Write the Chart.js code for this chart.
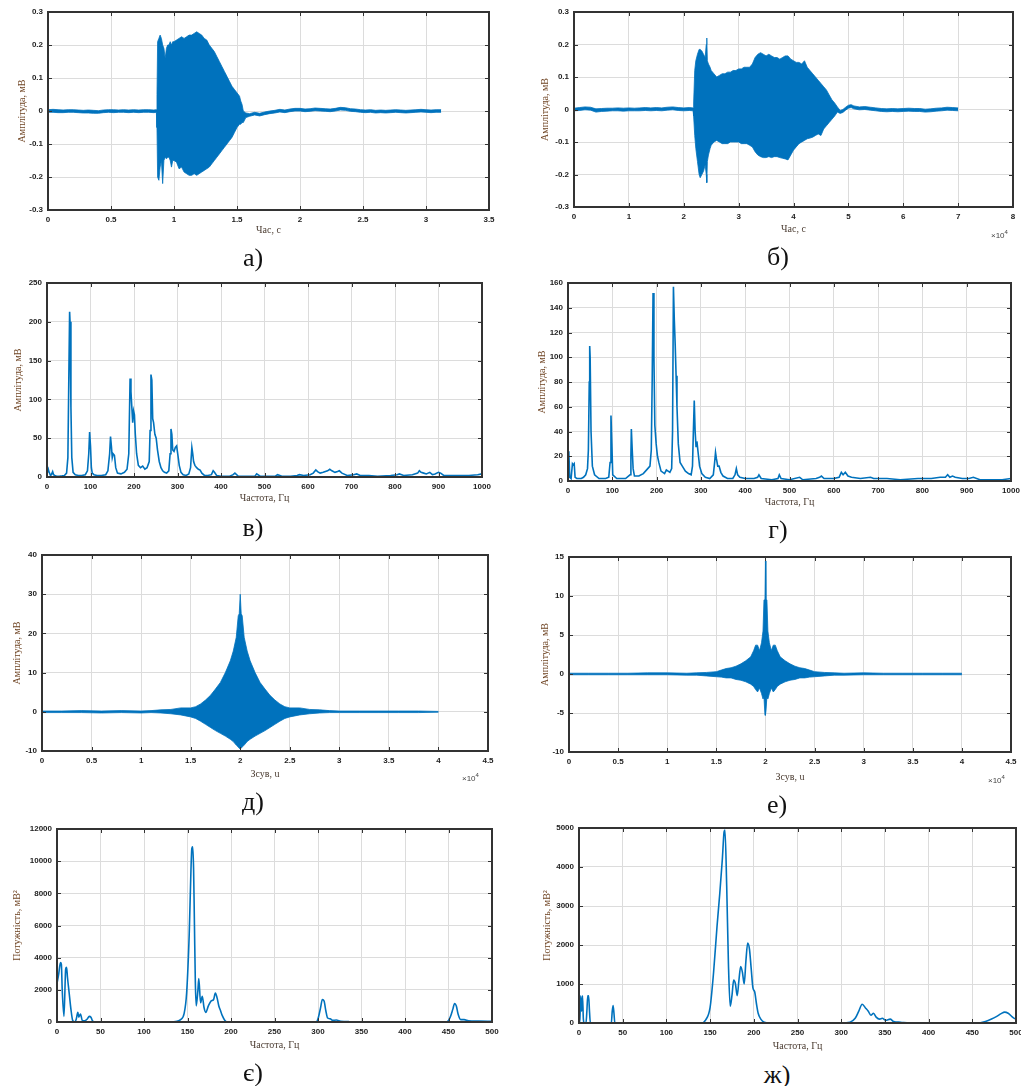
<!DOCTYPE html>
<html>
<head>
<meta charset="utf-8">
<script src="https://cdn.jsdelivr.net/npm/chart.js@4.4.0/dist/chart.umd.min.js"></script>
<style>
  html, body { margin: 0; padding: 0; background: #fff; overflow: hidden; }
  #page { position: relative; width: 1021px; height: 1086px; overflow: hidden; background: #fff; }
  #page canvas { position: absolute; }
  .cap { position: absolute; font-family: "Liberation Serif", "DejaVu Serif", serif; font-size: 26px; color: #111; transform: translate(-50%, -50%); white-space: nowrap; }
  .exp { position: absolute; font-family: "Liberation Sans", sans-serif; font-size: 8px; color: #444; white-space: nowrap; }
  .exp sup { font-size: 6px; }
</style>
</head>
<body>
<div id="page"></div>
<script>
// ---- а) signal 1, envelope (time in s, amplitude in mV)
const aTime = [0,0.04,0.08,0.12,0.16,0.2,0.24,0.28,0.32,0.36,0.4,0.44,0.48,0.52,0.56,0.6,0.64,0.68,0.72,0.76,0.8,0.84,0.86,
  0.865,0.87,0.88,0.89,0.9,0.91,0.92,0.93,0.94,0.95,0.96,0.97,0.98,0.99,1.0,
  1.02,1.04,1.06,1.08,1.1,1.12,1.14,1.16,1.18,1.2,1.22,1.24,1.26,1.28,1.3,1.32,1.34,1.36,1.38,1.4,1.42,1.44,1.46,1.48,1.5,1.52,
  1.53,1.54,1.55,
  1.57,1.6,1.64,1.68,1.72,1.76,1.8,1.84,1.88,1.92,1.96,2.0,2.04,2.08,2.12,2.16,2.2,2.24,2.28,2.32,2.36,2.4,2.44,2.48,2.52,2.56,2.6,2.64,2.68,2.72,2.76,2.8,2.84,2.88,2.92,2.96,3.0,3.04,3.08,3.12];
const aTop = [0.004,0.005,0.004,0.003,0.004,0.004,0.003,0.002,0.003,0.002,0.001,0.003,0.004,0.004,0.003,0.004,0.003,0.004,0.003,0.004,0.004,0.003,0.004,
  0.05,0.21,0.22,0.23,0.22,0.2,0.19,0.16,0.19,0.2,0.2,0.21,0.2,0.21,0.21,
  0.215,0.22,0.225,0.22,0.225,0.23,0.23,0.235,0.24,0.235,0.23,0.22,0.215,0.2,0.19,0.18,0.165,0.15,0.135,0.12,0.105,0.09,0.075,0.065,0.055,0.045,
  0.03,0.02,0.0,
  -0.006,-0.008,-0.004,-0.007,-0.003,0.0,0.002,0.005,0.003,0.006,0.008,0.008,0.006,0.007,0.009,0.008,0.007,0.006,0.008,0.011,0.010,0.007,0.006,0.004,0.003,0.004,0.002,0.003,0.002,0.003,0.004,0.003,0.002,0.003,0.004,0.005,0.004,0.003,0.004,0.004];
const aBot = [-0.004,-0.004,-0.005,-0.005,-0.004,-0.004,-0.005,-0.006,-0.006,-0.007,-0.007,-0.005,-0.004,-0.005,-0.004,-0.004,-0.005,-0.004,-0.005,-0.004,-0.004,-0.005,-0.004,
  -0.05,-0.2,-0.21,-0.17,-0.15,-0.22,-0.15,-0.14,-0.145,-0.14,-0.14,-0.15,-0.17,-0.15,-0.15,
  -0.155,-0.175,-0.17,-0.185,-0.19,-0.195,-0.195,-0.19,-0.195,-0.19,-0.185,-0.18,-0.175,-0.17,-0.16,-0.15,-0.14,-0.13,-0.12,-0.11,-0.1,-0.09,-0.08,-0.065,-0.05,-0.04,
  -0.04,-0.035,-0.035,
  -0.02,-0.016,-0.012,-0.015,-0.011,-0.008,-0.006,-0.003,-0.005,-0.002,0.0,0.0,-0.002,-0.001,0.001,0.0,-0.001,-0.002,0.0,0.003,0.002,-0.001,-0.002,-0.004,-0.005,-0.004,-0.006,-0.005,-0.006,-0.005,-0.004,-0.005,-0.006,-0.005,-0.004,-0.003,-0.004,-0.005,-0.004,-0.004];

// ---- б) signal 2, envelope (samples x 10^4)
const bTime = [0,0.1,0.2,0.3,0.4,0.5,0.6,0.7,0.8,0.9,1.0,1.1,1.2,1.3,1.4,1.5,1.6,1.7,1.8,1.9,2.0,2.1,2.17,
  2.18,2.2,2.22,2.25,2.28,2.3,2.33,2.36,2.39,2.41,2.42,2.43,2.45,2.48,
  2.5,2.55,2.6,2.65,2.7,2.75,2.8,2.85,2.9,2.95,
  3.0,3.05,3.1,3.15,3.2,3.25,3.3,3.35,3.4,3.45,3.5,3.55,3.6,3.65,3.7,3.75,3.8,3.85,3.9,3.95,
  4.0,4.05,4.1,4.15,4.2,4.25,4.3,4.35,4.4,4.45,4.5,4.55,4.6,4.65,4.7,4.75,4.8,
  4.85,4.9,4.95,5.0,5.05,5.1,5.2,5.3,5.4,5.5,5.6,5.7,5.8,5.9,6.0,6.1,6.2,6.3,6.4,6.5,6.6,6.7,6.8,6.9,7.0];
const bTop = [0.004,0.006,0.008,0.007,0.002,0.003,0.004,0.004,0.005,0.004,0.005,0.004,0.005,0.006,0.005,0.006,0.005,0.007,0.008,0.006,0.005,0.006,0.005,
  0.02,0.12,0.15,0.17,0.185,0.185,0.18,0.17,0.16,0.2,0.22,0.15,0.14,0.13,
  0.12,0.11,0.1,0.105,0.11,0.11,0.115,0.115,0.12,0.12,
  0.125,0.125,0.13,0.13,0.13,0.14,0.16,0.17,0.175,0.17,0.165,0.17,0.165,0.16,0.16,0.155,0.16,0.165,0.165,0.155,
  0.15,0.145,0.145,0.14,0.15,0.13,0.12,0.11,0.1,0.09,0.08,0.07,0.06,0.045,0.03,0.02,0.008,
  -0.003,0.0,0.007,0.013,0.015,0.011,0.008,0.009,0.007,0.005,0.003,0.002,0.003,0.002,0.003,0.004,0.003,0.003,0.001,0.002,0.004,0.005,0.007,0.006,0.005];
const bBot = [-0.004,-0.003,-0.001,-0.002,-0.008,-0.006,-0.005,-0.004,-0.004,-0.005,-0.004,-0.004,-0.004,-0.003,-0.004,-0.003,-0.004,-0.002,-0.001,-0.003,-0.004,-0.003,-0.004,
  -0.02,-0.08,-0.12,-0.16,-0.2,-0.21,-0.2,-0.19,-0.17,-0.2,-0.225,-0.16,-0.14,-0.12,
  -0.11,-0.1,-0.095,-0.1,-0.105,-0.105,-0.105,-0.1,-0.1,-0.1,
  -0.1,-0.105,-0.105,-0.105,-0.11,-0.115,-0.13,-0.14,-0.145,-0.148,-0.148,-0.145,-0.148,-0.145,-0.145,-0.148,-0.15,-0.152,-0.155,-0.14,
  -0.125,-0.115,-0.105,-0.1,-0.095,-0.09,-0.088,-0.085,-0.08,-0.075,-0.08,-0.06,-0.05,-0.04,-0.03,-0.02,-0.008,
  -0.012,-0.009,-0.002,0.004,0.006,0.002,-0.001,0.0,-0.002,-0.004,-0.006,-0.007,-0.006,-0.007,-0.006,-0.005,-0.006,-0.006,-0.008,-0.007,-0.005,-0.004,-0.002,-0.003,-0.004];

// ---- в) amplitude spectrum 1 (Hz)
const specAFreq = [0,3,5,8,10,13,15,18,22,28,
  35,40,45,48,50,52,53,55,57,60,
  65,72,80,88,93,96,98,100,102,104,
  108,115,125,135,140,144,146,148,150,152,
  155,158,162,170,178,184,188,191,193,195,
  197,199,201,203,206,210,215,220,225,230,
  235,237,239,241,243,245,248,251,254,258,
  262,266,270,275,280,283,285,287,289,292,
  295,298,301,304,308,313,320,326,330,333,
  335,337,340,344,348,352,356,362,370,378,
  382,385,390,400,420,428,432,440,460,478,
  482,490,510,525,530,540,560,575,580,590,
  605,612,618,622,628,635,645,650,655,662,
  668,672,678,690,705,712,720,740,760,790,
  805,810,820,840,852,856,860,866,872,880,
  886,892,900,905,912,930,950,970,990,1000];
const specAAmp = [4,10,6,2,3,7,3,2,1,1,
  1.5,2,5,25,120,213,200,90,25,6,
  3,2,2,3,8,30,58,40,12,5,
  3,2,2,3,8,30,52,40,25,30,
  28,12,5,4,6,10,30,127,110,90,
  70,85,80,55,30,15,12,14,10,12,
  20,60,132,125,75,70,55,50,35,20,
  12,8,6,5,8,30,62,55,35,33,
  38,40,28,15,6,3,2,4,12,38,
  30,20,15,12,10,9,5,2,2,3,
  8,6,2,1,1,3,5,1,1,1,
  4,1,1,1,3,1,1,2,3,2,
  3,5,9,7,5,6,8,10,8,6,
  7,8,5,2,3,4,2,2,1,2,
  3,4,2,3,5,8,6,5,4,6,
  3,4,6,5,2,2,2,2,3,4];

// ---- г) amplitude spectrum 2 (Hz)
const specBFreq = [0,2,4,7,10,12,14,16,20,25,
  30,35,40,44,46,48,49,50,52,55,
  60,70,85,92,95,97,99,101,110,130,
  140,142,143,145,147,150,160,170,180,185,
  188,190,192,194,196,199,202,205,210,218,
  222,226,230,234,236,238,240,242,244,246,
  249,253,258,265,272,278,281,283,285,287,
  289,291,294,297,302,310,320,328,331,333,
  335,338,341,345,350,360,372,377,380,383,
  388,400,420,428,431,436,460,474,477,481,
  500,523,530,560,568,572,578,600,612,617,
  621,626,632,640,660,683,690,720,750,790,
  820,840,852,857,862,868,874,890,905,915,
  930,960,980,1000];
const specBAmp = [24,22,3,2,14,13,14,3,2,2,
  2,3,5,10,25,80,109,100,40,12,
  5,2,2,3,15,53,30,5,2,2,
  5,20,42,25,10,4,4,6,10,12,
  25,80,152,100,45,30,20,15,8,6,
  9,8,7,10,40,157,130,110,85,60,
  30,15,12,8,6,5,12,40,65,40,
  28,32,22,12,6,3,2,5,15,23,
  18,12,12,7,4,2,2,5,10,5,
  3,2,2,3,5,2,1,2,5,2,
  1,3,1,2,3,4,2,2,3,7,
  5,7,4,3,2,3,2,2,1,2,
  2,3,3,5,3,4,3,2,2,3,
  1,1,1,2];

// ---- д) autocorrelation 1, envelope (lag x 10^4)
const dLag = [0,0.2,0.4,0.6,0.8,1.0,1.1,1.2,1.3,1.4,1.5,
  1.55,1.6,1.65,1.7,1.75,1.8,1.85,1.9,
  1.93,1.96,1.98,1.99,2.0,2.01,2.02,2.04,2.07,
  2.1,2.15,2.2,2.25,2.3,2.35,2.4,2.45,2.5,
  2.6,2.7,2.8,2.9,3.0,3.2,3.4,3.6,3.8,4.0];
const dTop = [0.2,0.2,0.3,0.2,0.3,0.2,0.3,0.5,0.6,1.0,1.0,
  1.3,2.0,3.0,4.2,5.8,7.5,10,13,
  15.5,19,24.5,25,30,25,24.5,19,15.5,
  13,10,7.5,5.8,4.2,3.0,2.0,1.3,1.0,
  1.0,0.6,0.5,0.3,0.2,0.2,0.2,0.2,0.2,0.1];
const dBot = [-0.2,-0.2,-0.2,-0.3,-0.2,-0.3,-0.2,-0.3,-0.5,-0.8,-1.3,
  -1.7,-2.4,-3.2,-4.0,-4.8,-5.5,-6.2,-7.0,
  -7.6,-8.5,-9.0,-9.3,-9.5,-9.3,-9.0,-8.5,-7.6,
  -7.0,-6.2,-5.5,-4.8,-4.0,-3.2,-2.4,-1.7,-1.3,
  -0.8,-0.5,-0.3,-0.2,-0.2,-0.2,-0.2,-0.2,-0.2,-0.1];

// ---- е) autocorrelation 2, envelope (lag x 10^4)
const eLag = [0,0.2,0.4,0.6,0.8,1.0,1.2,1.3,1.4,1.5,
  1.55,1.6,1.65,1.7,1.75,1.8,1.85,1.88,1.9,1.92,1.94,1.96,
  1.975,1.985,1.995,2.0,2.005,2.015,2.025,
  2.04,2.06,2.08,2.1,2.12,2.15,2.2,2.25,2.3,2.35,2.4,2.45,2.5,
  2.6,2.7,2.8,3.0,3.2,3.4,3.6,3.8,4.0];
const eTop = [0.1,0.1,0.1,0.1,0.15,0.15,0.1,0.15,0.2,0.3,
  0.5,0.7,0.8,1.0,1.3,1.7,2.2,3.0,3.7,3.7,3.0,4.0,
  5.5,9.5,9.5,14.5,9.5,9.5,5.5,
  4.0,3.0,3.7,3.7,3.0,2.2,1.7,1.3,1.0,0.8,0.7,0.5,0.3,
  0.2,0.15,0.1,0.15,0.1,0.1,0.1,0.1,0.1];
const eBot = [-0.1,-0.1,-0.1,-0.1,-0.1,-0.1,-0.15,-0.15,-0.25,-0.35,
  -0.4,-0.5,-0.5,-0.7,-0.8,-1.0,-1.3,-1.6,-2.0,-2.3,-1.8,-2.5,
  -3.2,-3.0,-5.3,-5.3,-5.3,-3.0,-3.2,
  -2.5,-1.8,-2.3,-2.0,-1.6,-1.3,-1.0,-0.8,-0.7,-0.5,-0.5,-0.4,-0.35,
  -0.25,-0.15,-0.15,-0.1,-0.1,-0.1,-0.1,-0.1,-0.1];

// ---- є) power spectral density 1 (Hz, mV^2)
const psdAFreq = [0,2,4,5,6,8,10,11,12,14,
  16,18,20,22,24,25,27,29,32,35,
  37,39,41,45,130,138,142,146,149,152,
  154,155,156,157,158,159,160,162,163,165,
  167,169,171,174,177,180,182,184,186,188,
  190,193,196,298,300,303,305,307,309,311,
  314,317,321,326,336,448,452,455,457,459,
  461,464,468,473,485,500];
const psdAPow = [2400,3000,3700,3600,2000,350,3300,3400,2800,1800,
  800,100,0,150,600,300,500,100,80,200,
  350,300,50,0,0,50,150,500,1800,5500,
  9500,10800,10900,9500,6000,2500,1000,2000,2700,1200,
  1600,900,600,1000,1300,1400,1800,1500,1000,700,
  400,100,0,0,200,900,1400,1300,700,250,
  200,100,120,50,20,0,300,800,1150,1000,
  500,150,150,80,60,40];

// ---- ж) power spectral density 2 (Hz, mV^2)
const psdBFreq = [0,1,2,3,4,5,6,8,9,10,
  11,12,13,37,38,39,40,41,140,145,
  150,154,158,161,164,166,167,169,171,173,
  175,177,179,181,183,185,187,189,191,193,
  195,197,199,201,203,205,208,212,218,300,
  310,316,320,324,328,331,334,337,340,344,
  347,351,356,360,368,378,455,465,472,478,
  483,487,491,495,498,500];
const psdBPow = [0,100,700,300,700,100,0,0,300,700,
  700,300,0,0,300,450,250,0,0,80,
  400,1300,2500,3300,4200,4900,4950,3500,1500,430,
  700,1100,1000,700,1100,1450,1300,1000,1600,2050,
  1900,1400,900,800,500,250,100,20,0,0,
  20,120,300,480,380,300,200,250,150,100,
  120,70,100,40,20,0,0,40,100,170,
  240,280,250,170,120,100];

const BLUE = '#0072BD';
const page = document.getElementById('page');

function band(xs, top, bot) {
  return [
    { data: xs.map((x, i) => ({ x, y: top[i] })), borderColor: BLUE, backgroundColor: BLUE, borderWidth: 0.8, pointRadius: 0, fill: '+1' },
    { data: xs.map((x, i) => ({ x, y: bot[i] })), borderColor: BLUE, borderWidth: 0.8, pointRadius: 0, fill: false }
  ];
}
function trace(xs, ys, smooth) {
  return [{ data: xs.map((x, i) => ({ x, y: ys[i] })), borderColor: BLUE, borderWidth: 1.6, pointRadius: 0, fill: false,
    cubicInterpolationMode: smooth ? 'monotone' : 'default' }];
}

// axes box with inward MATLAB-style ticks
const frame = {
  id: 'frame',
  afterDatasetsDraw(ch) {
    const a = ch.chartArea, g = ch.ctx, sx = ch.scales.x, sy = ch.scales.y;
    g.save();
    g.strokeStyle = '#333';
    g.lineWidth = 1;
    g.beginPath();
    sx.ticks.forEach(t => {
      const px = Math.round(sx.getPixelForValue(t.value)) + 0.5;
      g.moveTo(px, a.bottom); g.lineTo(px, a.bottom - 4);
      g.moveTo(px, a.top); g.lineTo(px, a.top + 4);
    });
    sy.ticks.forEach(t => {
      const py = Math.round(sy.getPixelForValue(t.value)) + 0.5;
      g.moveTo(a.left, py); g.lineTo(a.left + 4, py);
      g.moveTo(a.right, py); g.lineTo(a.right - 4, py);
    });
    g.stroke();
    g.lineWidth = 2;
    g.strokeRect(a.left, a.top, a.right - a.left, a.bottom - a.top);
    g.restore();
  }
};

const fmt = v => String(+(+v).toFixed(4));

function panel(p) {
  const c = document.createElement('canvas');
  const w = p.cw, h = p.b + p.xh - p.ct;
  c.width = w; c.height = h;
  c.style.left = p.cl + 'px';
  c.style.top = p.ct + 'px';
  page.appendChild(c);
  new Chart(c, {
    type: 'line',
    data: { datasets: p.ds },
    options: {
      responsive: false,
      animation: false,
      events: [],
      layout: { padding: { left: 0, top: p.t - p.ct, right: p.cl + w - p.r, bottom: 0 } },
      plugins: { legend: { display: false }, tooltip: { enabled: false } },
      scales: {
        x: {
          type: 'linear', min: p.x[0], max: p.x[1],
          ticks: { stepSize: p.x[2], autoSkip: false, maxRotation: 0, padding: 5, color: '#222',
            font: { family: 'Liberation Sans', size: 8, weight: 'bold' }, callback: fmt },
          grid: { color: '#dcdcdc', drawTicks: false },
          border: { display: false },
          title: { display: true, text: p.xt, color: '#4a3b30', padding: { top: 0, bottom: 4 },
            font: { family: 'Liberation Serif', size: 10 } },
          afterFit: s => { s.height = p.xh; }
        },
        y: {
          type: 'linear', min: p.y[0], max: p.y[1],
          ticks: { stepSize: p.y[2], padding: 5, color: '#222',
            font: { family: 'Liberation Sans', size: 8, weight: 'bold' }, callback: fmt },
          grid: { color: '#dcdcdc', drawTicks: false },
          border: { display: false },
          title: { display: true, text: p.yt, color: '#6e4322', padding: { top: p.ytx - p.cl - 6, bottom: 0 },
            font: { family: 'Liberation Serif', size: 10 } },
          afterFit: s => { s.width = p.l - p.cl; }
        }
      }
    },
    plugins: [frame]
  });
}

function label(cls, html, x, y) {
  const d = document.createElement('div');
  d.className = cls;
  d.innerHTML = html;
  d.style.left = x + 'px';
  d.style.top = y + 'px';
  page.appendChild(d);
}

const AMP = 'Амплітуда, мВ';
const POW = 'Потужність, мВ²';
const FREQ = 'Частота, Гц';

panel({ cl: 0, ct: 0, cw: 510, l: 48, t: 12, r: 489, b: 210, xh: 30, ytx: 22,
  x: [0, 3.5, 0.5], y: [-0.3, 0.3, 0.1], xt: 'Час, с', yt: AMP, ds: band(aTime, aTop, aBot) });
panel({ cl: 510, ct: 0, cw: 520, l: 574, t: 12, r: 1013, b: 207, xh: 32, ytx: 545,
  x: [0, 8, 1], y: [-0.3, 0.3, 0.1], xt: 'Час, с', yt: AMP, ds: band(bTime, bTop, bBot) });
panel({ cl: 0, ct: 265, cw: 510, l: 47, t: 283, r: 482, b: 477, xh: 31, ytx: 18,
  x: [0, 1000, 100], y: [0, 250, 50], xt: FREQ, yt: AMP, ds: trace(specAFreq, specAAmp, false) });
panel({ cl: 510, ct: 265, cw: 520, l: 568, t: 283, r: 1011, b: 481, xh: 31, ytx: 542,
  x: [0, 1000, 100], y: [0, 160, 20], xt: FREQ, yt: AMP, ds: trace(specBFreq, specBAmp, false) });
panel({ cl: 0, ct: 540, cw: 510, l: 42, t: 555, r: 488, b: 751, xh: 33, ytx: 17,
  x: [0, 4.5, 0.5], y: [-10, 40, 10], xt: 'Зсув, u', yt: AMP, ds: band(dLag, dTop, dBot) });
panel({ cl: 510, ct: 540, cw: 520, l: 569, t: 557, r: 1011, b: 752, xh: 35, ytx: 545,
  x: [0, 4.5, 0.5], y: [-10, 15, 5], xt: 'Зсув, u', yt: AMP, ds: band(eLag, eTop, eBot) });
panel({ cl: 0, ct: 815, cw: 510, l: 57, t: 829, r: 492, b: 1022, xh: 33, ytx: 17,
  x: [0, 500, 50], y: [0, 12000, 2000], xt: FREQ, yt: POW, ds: trace(psdAFreq, psdAPow, true) });
panel({ cl: 510, ct: 815, cw: 520, l: 579, t: 828, r: 1016, b: 1023, xh: 33, ytx: 547,
  x: [0, 500, 50], y: [0, 5000, 1000], xt: FREQ, yt: POW, ds: trace(psdBFreq, psdBPow, true) });

label('cap', 'а)', 253, 258);
label('cap', 'б)', 778, 257);
label('cap', 'в)', 253, 528);
label('cap', 'г)', 778, 530);
label('cap', 'д)', 253, 802);
label('cap', 'е)', 777, 805);
label('cap', 'є)', 253, 1073);
label('cap', 'ж)', 777, 1075);

label('exp', '×10<sup>4</sup>', 991, 229);
label('exp', '×10<sup>4</sup>', 462, 772);
label('exp', '×10<sup>4</sup>', 988, 774);
</script>
</body>
</html>
